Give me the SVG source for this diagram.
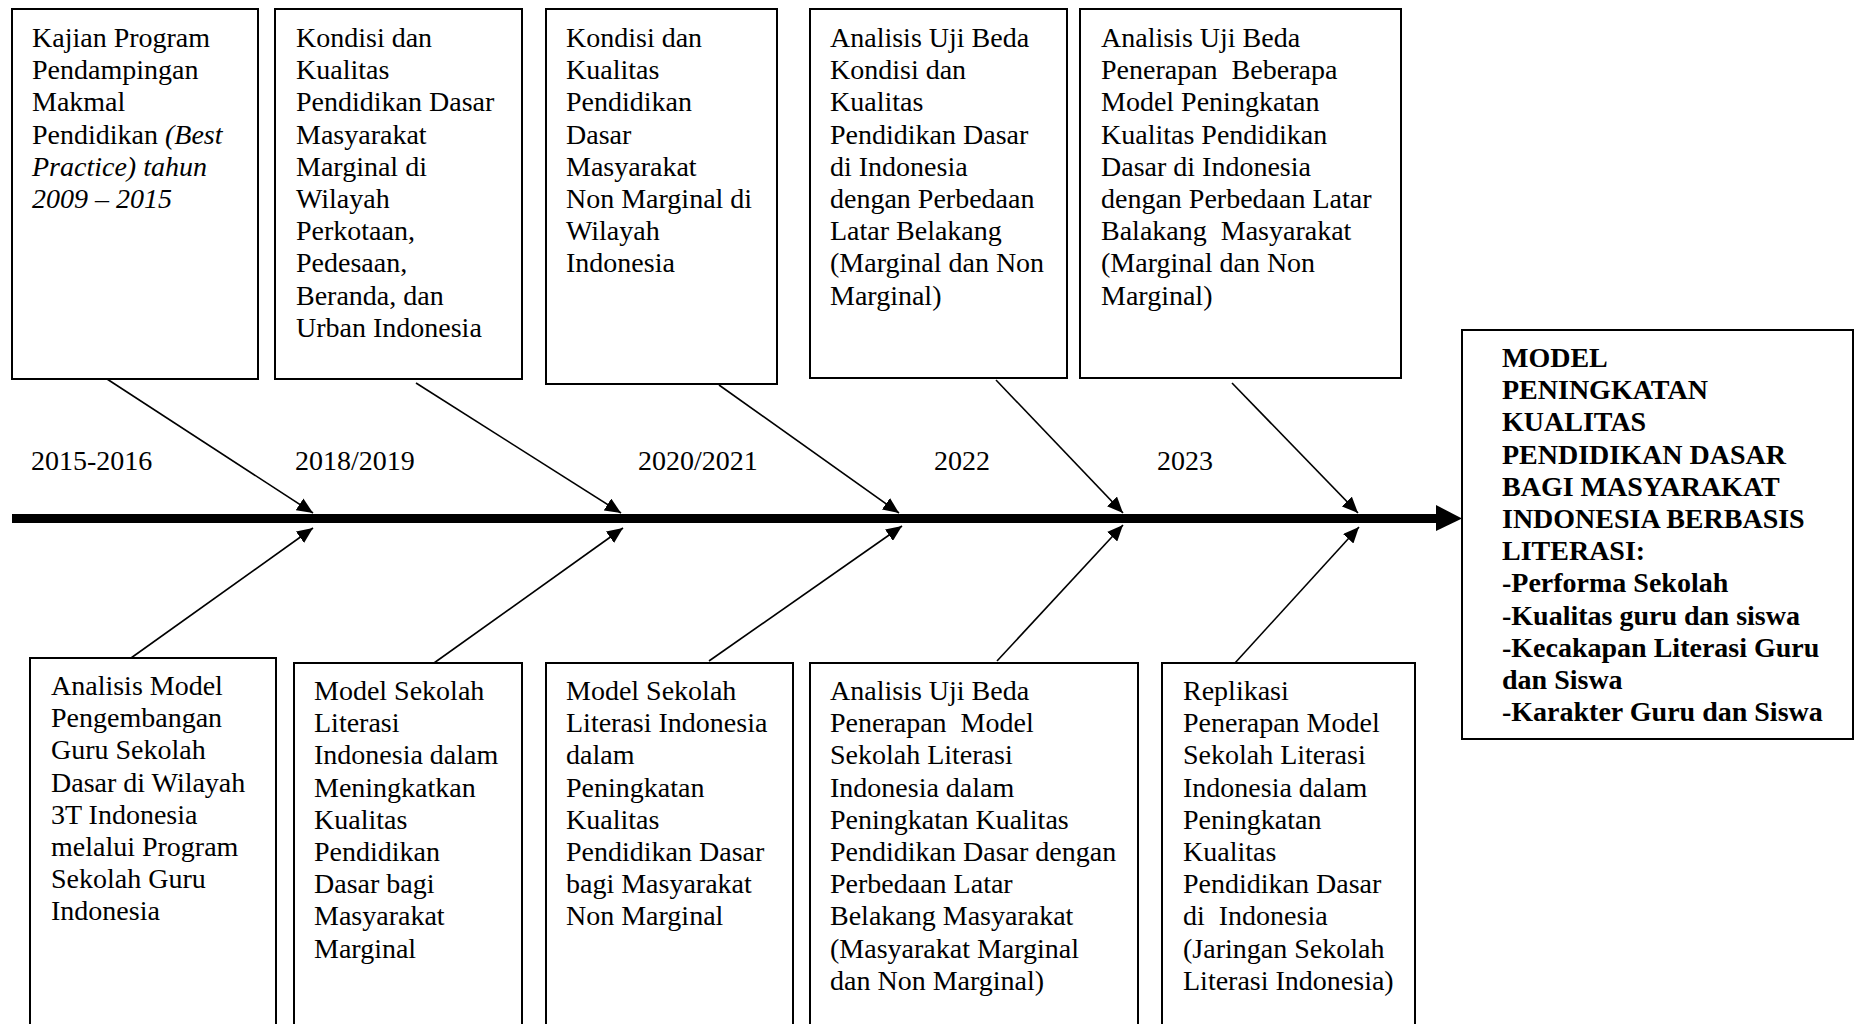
<svg xmlns="http://www.w3.org/2000/svg" width="1858" height="1024" viewBox="0 0 1858 1024">
<style>
.box{fill:#fff;stroke:#000;stroke-width:2}
.t{font-family:"Liberation Serif","Times New Roman",serif;font-size:28px;fill:#000;white-space:pre}
.b{font-weight:bold}
.c{stroke:#000;stroke-width:1.6;fill:none;marker-end:url(#ah)}
</style>
<defs>
<marker id="ah" markerUnits="userSpaceOnUse" markerWidth="18" markerHeight="14" refX="16" refY="7" orient="auto"><path d="M0,0 L16,7 L0,14 z" fill="#000"/></marker>
</defs>
<rect width="1858" height="1024" fill="#fff"/>

<g id="connectors">
<line x1="12" y1="518.5" x2="1440" y2="518.5" stroke="#000" stroke-width="9"/>
<polygon points="1436,505 1462,518.5 1436,531" fill="#000"/>
<line class="c" x1="107" y1="379" x2="313" y2="513"/>
<line class="c" x1="416" y1="383" x2="621" y2="513"/>
<line class="c" x1="719" y1="385" x2="899" y2="513"/>
<line class="c" x1="996" y1="380" x2="1123" y2="513"/>
<line class="c" x1="1232" y1="383" x2="1358" y2="513"/>
<line class="c" x1="131" y1="658" x2="313" y2="528"/>
<line class="c" x1="434" y1="663" x2="623" y2="528"/>
<line class="c" x1="709" y1="661" x2="902" y2="526"/>
<line class="c" x1="997" y1="661" x2="1123" y2="525"/>
<line class="c" x1="1235" y1="663" x2="1359" y2="527"/>
</g>

<g id="years">
<text class="t" x="31" y="470">2015-2016</text>
<text class="t" x="295" y="470">2018/2019</text>
<text class="t" x="638" y="470">2020/2021</text>
<text class="t" x="934" y="470">2022</text>
<text class="t" x="1157" y="470">2023</text>
</g>

<g id="top1">
<rect class="box" x="12" y="9" width="246" height="370"/>
<text class="t" y="47"><tspan x="32">Kajian Program</tspan><tspan x="32" dy="32.2">Pendampingan</tspan><tspan x="32" dy="32.2">Makmal</tspan><tspan x="32" dy="32.2">Pendidikan <tspan font-style="italic">(Best</tspan></tspan><tspan x="32" dy="32.2" font-style="italic">Practice) tahun</tspan><tspan x="32" dy="32.2" font-style="italic">2009 – 2015</tspan></text>
</g>

<g id="top2">
<rect class="box" x="275" y="9" width="247" height="370"/>
<text class="t" y="47"><tspan x="296">Kondisi dan</tspan><tspan x="296" dy="32.2">Kualitas</tspan><tspan x="296" dy="32.2">Pendidikan Dasar</tspan><tspan x="296" dy="32.2">Masyarakat</tspan><tspan x="296" dy="32.2">Marginal di</tspan><tspan x="296" dy="32.2">Wilayah</tspan><tspan x="296" dy="32.2">Perkotaan,</tspan><tspan x="296" dy="32.2">Pedesaan,</tspan><tspan x="296" dy="32.2">Beranda, dan</tspan><tspan x="296" dy="32.2">Urban Indonesia</tspan></text>
</g>

<g id="top3">
<rect class="box" x="546" y="9" width="231" height="375"/>
<text class="t" y="47"><tspan x="566">Kondisi dan</tspan><tspan x="566" dy="32.2">Kualitas</tspan><tspan x="566" dy="32.2">Pendidikan</tspan><tspan x="566" dy="32.2">Dasar</tspan><tspan x="566" dy="32.2">Masyarakat</tspan><tspan x="566" dy="32.2">Non Marginal di</tspan><tspan x="566" dy="32.2">Wilayah</tspan><tspan x="566" dy="32.2">Indonesia</tspan></text>
</g>

<g id="top4">
<rect class="box" x="810" y="9" width="257" height="369"/>
<text class="t" y="47"><tspan x="830">Analisis Uji Beda</tspan><tspan x="830" dy="32.2">Kondisi dan</tspan><tspan x="830" dy="32.2">Kualitas</tspan><tspan x="830" dy="32.2">Pendidikan Dasar</tspan><tspan x="830" dy="32.2">di Indonesia</tspan><tspan x="830" dy="32.2">dengan Perbedaan</tspan><tspan x="830" dy="32.2">Latar Belakang</tspan><tspan x="830" dy="32.2">(Marginal dan Non</tspan><tspan x="830" dy="32.2">Marginal)</tspan></text>
</g>

<g id="top5">
<rect class="box" x="1080" y="9" width="321" height="369"/>
<text class="t" y="47"><tspan x="1101">Analisis Uji Beda</tspan><tspan x="1101" dy="32.2">Penerapan  Beberapa</tspan><tspan x="1101" dy="32.2">Model Peningkatan</tspan><tspan x="1101" dy="32.2">Kualitas Pendidikan</tspan><tspan x="1101" dy="32.2">Dasar di Indonesia</tspan><tspan x="1101" dy="32.2">dengan Perbedaan Latar</tspan><tspan x="1101" dy="32.2">Balakang  Masyarakat</tspan><tspan x="1101" dy="32.2">(Marginal dan Non</tspan><tspan x="1101" dy="32.2">Marginal)</tspan></text>
</g>

<g id="result">
<rect class="box" x="1462" y="330" width="391" height="409"/>
<text class="t b" y="367"><tspan x="1502">MODEL</tspan><tspan x="1502" dy="32.2">PENINGKATAN</tspan><tspan x="1502" dy="32.2">KUALITAS</tspan><tspan x="1502" dy="32.2">PENDIDIKAN DASAR</tspan><tspan x="1502" dy="32.2">BAGI MASYARAKAT</tspan><tspan x="1502" dy="32.2">INDONESIA BERBASIS</tspan><tspan x="1502" dy="32.2">LITERASI:</tspan><tspan x="1502" dy="32.2">-Performa Sekolah</tspan><tspan x="1502" dy="32.2">-Kualitas guru dan siswa</tspan><tspan x="1502" dy="32.2">-Kecakapan Literasi Guru</tspan><tspan x="1502" dy="32.2">dan Siswa</tspan><tspan x="1502" dy="32.2">-Karakter Guru dan Siswa</tspan></text>
</g>

<g id="bottom1">
<rect class="box" x="30" y="658" width="246" height="380"/>
<text class="t" y="695"><tspan x="51">Analisis Model</tspan><tspan x="51" dy="32.2">Pengembangan</tspan><tspan x="51" dy="32.2">Guru Sekolah</tspan><tspan x="51" dy="32.2">Dasar di Wilayah</tspan><tspan x="51" dy="32.2">3T Indonesia</tspan><tspan x="51" dy="32.2">melalui Program</tspan><tspan x="51" dy="32.2">Sekolah Guru</tspan><tspan x="51" dy="32.2">Indonesia</tspan></text>
</g>

<g id="bottom2">
<rect class="box" x="294" y="663" width="228" height="380"/>
<text class="t" y="700"><tspan x="314">Model Sekolah</tspan><tspan x="314" dy="32.2">Literasi</tspan><tspan x="314" dy="32.2">Indonesia dalam</tspan><tspan x="314" dy="32.2">Meningkatkan</tspan><tspan x="314" dy="32.2">Kualitas</tspan><tspan x="314" dy="32.2">Pendidikan</tspan><tspan x="314" dy="32.2">Dasar bagi</tspan><tspan x="314" dy="32.2">Masyarakat</tspan><tspan x="314" dy="32.2">Marginal</tspan></text>
</g>

<g id="bottom3">
<rect class="box" x="546" y="663" width="247" height="380"/>
<text class="t" y="700"><tspan x="566">Model Sekolah</tspan><tspan x="566" dy="32.2">Literasi Indonesia</tspan><tspan x="566" dy="32.2">dalam</tspan><tspan x="566" dy="32.2">Peningkatan</tspan><tspan x="566" dy="32.2">Kualitas</tspan><tspan x="566" dy="32.2">Pendidikan Dasar</tspan><tspan x="566" dy="32.2">bagi Masyarakat</tspan><tspan x="566" dy="32.2">Non Marginal</tspan></text>
</g>

<g id="bottom4">
<rect class="box" x="810" y="663" width="328" height="380"/>
<text class="t" y="700"><tspan x="830">Analisis Uji Beda</tspan><tspan x="830" dy="32.2">Penerapan  Model</tspan><tspan x="830" dy="32.2">Sekolah Literasi</tspan><tspan x="830" dy="32.2">Indonesia dalam</tspan><tspan x="830" dy="32.2">Peningkatan Kualitas</tspan><tspan x="830" dy="32.2">Pendidikan Dasar dengan</tspan><tspan x="830" dy="32.2">Perbedaan Latar</tspan><tspan x="830" dy="32.2">Belakang Masyarakat</tspan><tspan x="830" dy="32.2">(Masyarakat Marginal</tspan><tspan x="830" dy="32.2">dan Non Marginal)</tspan></text>
</g>

<g id="bottom5">
<rect class="box" x="1162" y="663" width="253" height="380"/>
<text class="t" y="700"><tspan x="1183">Replikasi</tspan><tspan x="1183" dy="32.2">Penerapan Model</tspan><tspan x="1183" dy="32.2">Sekolah Literasi</tspan><tspan x="1183" dy="32.2">Indonesia dalam</tspan><tspan x="1183" dy="32.2">Peningkatan</tspan><tspan x="1183" dy="32.2">Kualitas</tspan><tspan x="1183" dy="32.2">Pendidikan Dasar</tspan><tspan x="1183" dy="32.2">di  Indonesia</tspan><tspan x="1183" dy="32.2">(Jaringan Sekolah</tspan><tspan x="1183" dy="32.2">Literasi Indonesia)</tspan></text>
</g>
</svg>
